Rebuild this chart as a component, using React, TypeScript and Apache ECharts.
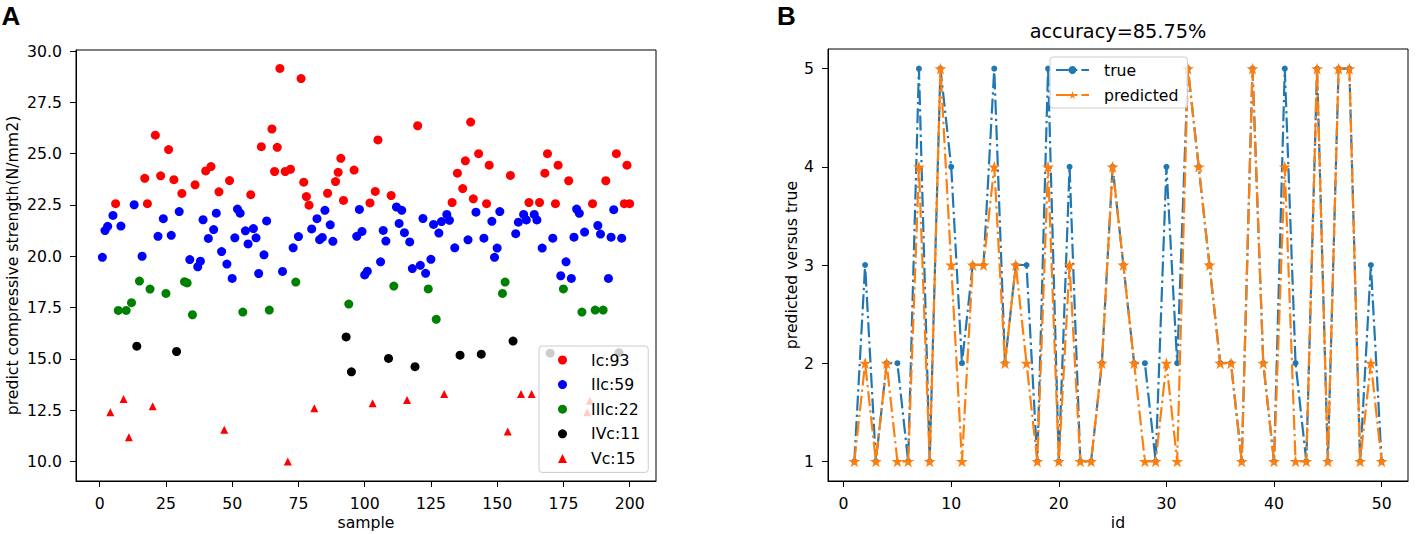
import React, { useEffect, useRef } from "react";
import * as echarts from "echarts";

// ---------- Panel A data ----------
const icSamples = [6,17,18,21,23,26,28,31,36,40,42,45,49,57,61,65,66,67,68,70,72,76,77,78,79,86,89,90,91,92,96,102,104,105,110,120,133,135,137,138,140,141,143,146,147,155,162,166,168,169,172,173,177,186,191,195,198,199,200];
const icValues = [22.56,23.8,22.56,25.9,23.92,25.2,23.73,23.06,23.48,24.16,24.37,23.14,23.69,23.0,25.34,26.2,24.13,25.31,29.15,24.13,24.24,28.66,23.61,22.91,22.49,23.07,23.64,24.09,24.77,22.72,24.2,22.6,23.16,25.67,22.96,26.36,22.62,24.05,23.3,24.65,26.54,22.8,25.0,22.56,24.44,23.94,22.62,22.62,24.05,25.0,22.56,24.44,23.68,22.56,23.68,25.0,22.56,24.44,22.56];

const iicSamples = [1,2,3,5,8,13,16,22,24,27,30,34,37,38,39,41,43,44,46,48,50,51,52,53,55,56,58,59,60,62,63,69,73,75,80,82,83,84,85,87,88,97,98,99,100,101,106,107,108,112,113,114,115,117,118,121,122,123,125,126,128,129,131,132,134,139,142,145,148,149,150,151,157,158,160,161,164,165,167,171,174,176,178,179,180,181,183,188,189,192,193,194,197];
const iicValues = [19.95,21.25,21.46,21.99,21.47,22.51,20.0,20.97,21.83,21.02,22.18,19.84,19.49,19.76,21.78,20.87,21.3,22.1,20.23,19.62,18.92,20.9,22.3,22.1,21.24,20.6,21.35,20.9,19.16,20.07,21.72,19.26,20.41,20.96,21.33,21.83,20.81,20.92,22.24,21.53,20.73,20.97,22.28,21.21,19.09,19.27,19.73,21.26,20.74,22.4,21.6,22.24,21.15,20.7,19.4,19.56,21.84,19.17,19.85,21.55,21.13,21.69,22.04,21.75,20.41,20.8,22.15,20.88,21.7,19.95,20.4,22.18,21.1,21.66,22.04,21.77,22.04,21.77,20.4,20.88,19.05,19.73,18.92,20.93,22.3,22.09,21.18,21.5,21.08,18.92,20.93,22.27,20.88];

const iiicSamples = [7,10,12,15,19,25,32,33,35,54,64,74,94,111,124,127,152,153,175,182,187,190];
const iiicValues = [17.36,17.36,17.74,18.79,18.4,18.19,18.76,18.7,17.15,17.28,17.38,18.74,17.67,18.55,18.41,16.93,18.19,18.74,18.41,17.28,17.38,17.38];

const ivcSamples = [14,29,93,95,109,119,136,144,156,170,196];
const ivcValues = [15.62,15.36,16.07,14.37,15.02,14.62,15.18,15.23,15.87,15.28,15.3];

const vcSamples = [4,9,11,20,47,71,81,103,116,130,154,159,163,184,185];
const vcValues = [12.4,13.04,11.18,12.69,11.55,10.0,12.59,12.84,13.0,13.29,11.46,13.29,13.29,12.4,12.96];

const classNames = ["Ic:93", "IIc:59", "IIIc:22", "IVc:11", "Vc:15"];

const sampleTicks = [0, 25, 50, 75, 100, 125, 150, 175, 200];
const strengthTicks = [10, 12.5, 15, 17.5, 20, 22.5, 25, 27.5, 30];

// ---------- Panel B data ----------
const ids = [1,2,3,4,5,6,7,8,9,10,11,12,13,14,15,16,17,18,19,20,21,22,23,24,25,26,27,28,29,30,31,32,33,34,35,36,37,38,39,40,41,42,43,44,45,46,47,48,49,50];
const trueVals = [1,3,1,2,2,1,5,1,5,4,2,3,3,5,2,3,3,1,5,1,4,1,1,2,4,3,2,2,1,4,2,5,4,3,2,2,1,5,2,1,5,2,1,5,1,5,5,1,3,1];
const predVals = [1,2,1,2,1,1,4,1,5,3,1,3,3,4,2,3,2,1,4,1,3,1,1,2,4,3,2,1,1,2,1,5,4,3,2,2,1,5,2,1,4,1,1,5,1,5,5,1,2,1];
const idTicks = [0, 10, 20, 30, 40, 50];
const levelTicks = [1, 2, 3, 4, 5];

const starPath =
  "path://M0,-100L22.45,-30.9L95.1,-30.9L36.3,11.8L58.8,80.9L0,38.2L-58.8,80.9L-36.3,11.8L-95.1,-30.9L-22.45,-30.9Z";

function zip(xs: number[], ys: number[]) {
  return xs.map((x, i) => [x, ys[i]]);
}

const FONT = "DejaVu Sans";
const FS = 15.7;
const TXT = "#000";

function valueAxis(opts: any) {
  const { ticks, fmt, ...rest } = opts;
  return {
    type: "value",
    axisLine: { show: true, onZero: false, lineStyle: { color: "#000", width: 1 } },
    splitLine: { show: false },
    axisTick: { show: true, length: 6, customValues: ticks, lineStyle: { color: "#000", width: 1 } },
    axisLabel: {
      customValues: ticks,
      margin: 14,
      fontSize: FS,
      fontFamily: FONT,
      color: TXT,
      formatter: fmt,
    },
    nameLocation: "middle",
    nameMoveOverlap: false,
    nameTextStyle: { fontSize: FS, fontFamily: FONT, color: TXT },
    ...rest,
  };
}

export default function App() {
  const ref = useRef<HTMLDivElement>(null);
  useEffect(() => {
    document.body.style.margin = "0";
    const chart = echarts.init(ref.current as HTMLDivElement, null, { renderer: "svg" });
    const dashDot = [15, 4, 2.4, 4];
    chart.setOption({
      animation: false,
      backgroundColor: "#fff",
      textStyle: { fontFamily: FONT },
      grid: [
        { left: 76, top: 50, width: 580, height: 431, show: true, borderColor: "#000", borderWidth: 1, backgroundColor: "transparent", outerBoundsMode: "none" },
        { left: 828, top: 49, width: 580, height: 432, show: true, borderColor: "#000", borderWidth: 1, backgroundColor: "transparent", outerBoundsMode: "none" },
      ],
      xAxis: [
        valueAxis({ gridIndex: 0, min: -8.95, max: 209.95, ticks: sampleTicks, fmt: (v: number) => String(v), name: "sample", nameGap: 33 }),
        valueAxis({ gridIndex: 1, min: -1.45, max: 52.45, ticks: idTicks, fmt: (v: number) => String(v), name: "id", nameGap: 33 }),
      ],
      yAxis: [
        valueAxis({ gridIndex: 0, min: 9.05, max: 30.05, ticks: strengthTicks, fmt: (v: number) => v.toFixed(1), name: "predict compressive strength(N/mm2)", nameGap: 56 }),
        valueAxis({ gridIndex: 1, min: 0.8, max: 5.2, ticks: levelTicks, fmt: (v: number) => String(v), name: "predicted versus true", nameGap: 29 }),
      ],
      legend: [
        {
          orient: "vertical",
          left: 539,
          top: 346,
          data: classNames,
          itemWidth: 9,
          itemHeight: 9,
          itemGap: 6.6,
          padding: [5, 8, 5, 19],
          backgroundColor: "rgba(255,255,255,0.8)",
          borderColor: "#cccccc",
          borderWidth: 1,
          borderRadius: 3,
          selectedMode: false,
          textStyle: { fontSize: FS, fontFamily: FONT, color: TXT, lineHeight: 18, padding: [0, 0, 0, 19] },
        },
        {
          orient: "vertical",
          left: 1050,
          top: 57,
          data: ["true", "predicted"],
          itemWidth: 33,
          itemHeight: 10,
          itemGap: 7,
          padding: [4, 9, 4, 5],
          backgroundColor: "rgba(255,255,255,0.8)",
          borderColor: "#cccccc",
          borderWidth: 1,
          borderRadius: 3,
          selectedMode: false,
          textStyle: { fontSize: FS, fontFamily: FONT, color: TXT, lineHeight: 18, padding: [0, 0, 0, 10] },
        },
      ],
      series: [
        { type: "scatter", name: classNames[0], xAxisIndex: 0, yAxisIndex: 0, symbol: "circle", symbolSize: 9, itemStyle: { color: "#ff0000", opacity: 1 }, data: zip(icSamples, icValues) },
        { type: "scatter", name: classNames[1], xAxisIndex: 0, yAxisIndex: 0, symbol: "circle", symbolSize: 9, itemStyle: { color: "#0000ff", opacity: 1 }, data: zip(iicSamples, iicValues) },
        { type: "scatter", name: classNames[2], xAxisIndex: 0, yAxisIndex: 0, symbol: "circle", symbolSize: 9, itemStyle: { color: "#008000", opacity: 1 }, data: zip(iiicSamples, iiicValues) },
        { type: "scatter", name: classNames[3], xAxisIndex: 0, yAxisIndex: 0, symbol: "circle", symbolSize: 9, itemStyle: { color: "#000000", opacity: 1 }, data: zip(ivcSamples, ivcValues) },
        { type: "scatter", name: classNames[4], xAxisIndex: 0, yAxisIndex: 0, symbol: "triangle", symbolSize: 8, itemStyle: { color: "#ff0000", opacity: 1 }, data: zip(vcSamples, vcValues) },
        {
          type: "line",
          name: "true",
          xAxisIndex: 1,
          yAxisIndex: 1,
          data: zip(ids, trueVals),
          symbol: "circle",
          symbolSize: 6,
          showSymbol: true,
          itemStyle: { color: "#1f77b4" },
          lineStyle: { color: "#1f77b4", width: 2.2, type: dashDot },
          z: 2,
        },
        {
          type: "line",
          name: "predicted",
          xAxisIndex: 1,
          yAxisIndex: 1,
          data: zip(ids, predVals),
          symbol: starPath,
          symbolSize: 12,
          showSymbol: true,
          itemStyle: { color: "#ff7f0e" },
          lineStyle: { color: "#ff7f0e", width: 2.2, type: dashDot },
          z: 3,
        },
      ],
      graphic: [
        { type: "text", x: 1.5, y: 15.5, style: { text: "A", fontSize: 26, fontWeight: "bold", fontFamily: "Liberation Sans", fill: "#000", align: "left", verticalAlign: "middle" } },
        { type: "text", x: 777, y: 15.5, style: { text: "B", fontSize: 26, fontWeight: "bold", fontFamily: "Liberation Sans", fill: "#000", align: "left", verticalAlign: "middle" } },
        { type: "text", x: 1118, y: 31.7, style: { text: "accuracy=85.75%", fontSize: 19.3, fontFamily: FONT, fill: "#000", align: "center", verticalAlign: "middle" } },
      ],
    });
    return () => chart.dispose();
  }, []);
  return <div ref={ref} style={{ width: 1417, height: 534 }} />;
}
